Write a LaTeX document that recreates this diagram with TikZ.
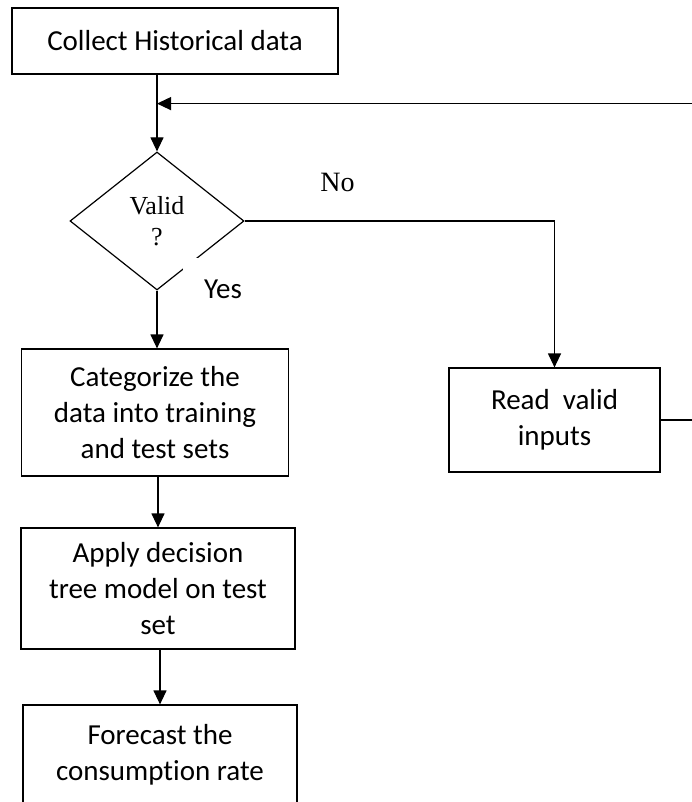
\documentclass[tikz,border=0pt]{standalone}
\usepackage{fontspec}
\setmainfont[Ligatures={NoCommon}]{Carlito}
\newfontfamily\timesfont{Liberation Serif}
\usetikzlibrary{shapes.geometric, arrows.meta}
\tikzstyle{process} = [rectangle, draw=black, line width=1.2pt, text centered, align=center,
font=\fontsize{29}{36}\selectfont]
\tikzstyle{decision} = [diamond, minimum width=174pt, minimum height=138pt, inner sep=0pt,
draw=black, line width=1.2pt, align=center, font=\timesfont\fontsize{26}{31}\selectfont]
\tikzstyle{answer} = [font=\timesfont\fontsize{28}{32}\selectfont]
\tikzstyle{yesbox} = [fill=white, inner xsep=21pt, inner ysep=22pt, font=\fontsize{29}{36}\selectfont]
\tikzstyle{arrow} = [line width=1.2pt, -{Triangle[length=14pt, width=13pt]}]

\begin{document}
\begin{tikzpicture}

\useasboundingbox (0,0) rectangle (692pt,-802pt);
\clip (0,0) rectangle (692pt,-802pt);

% ------------------------- nodes -------------------------

% ----- node: collect
\node(collect) [process, minimum width=326pt, minimum height=66pt] at (175pt,-41pt) {Collect Historical data};
% ----- node: valid
\node(valid) [decision, below of=collect, node distance=180pt, xshift=-18pt] {Valid\\?};
\node(yes) [yesbox] at (223pt,-289pt) {Yes};
% ----- node: categorize
\node(categorize) [process, below of=valid, node distance=191.5pt, xshift=-2pt, minimum width=267pt, minimum height=127pt] {Categorize the\\data into training\\and test sets};
% ----- node: apply
\node(apply) [process, below of=categorize, node distance=176pt, xshift=3pt, minimum width=274pt, minimum height=121pt] {Apply decision\\tree model on test\\set};
% ----- node: forecast
\node(forecast) [process, below of=apply, node distance=166.5pt, xshift=2pt, minimum width=274pt, minimum height=100pt] {Forecast the\\consumption rate};
% ----- node: read
\node(read) [process, right of=valid, node distance=397.5pt, yshift=-199pt, minimum width=211pt, minimum height=104pt] {Read~ valid\\inputs};
\coordinate(merge) at ([yshift=-29pt]collect.south -| valid.north);

% ------------------------- connections -------------------------
\draw[arrow](collect.south -| valid.north)--(valid.north);
\draw[arrow](valid.south)--(valid.south |- categorize.north);
\draw[arrow](valid.east)-|node[answer, pos=0.15, anchor=south, yshift=25pt] {No} (read.north);
\draw[arrow](categorize.south -| apply.north)--(apply.north);
\draw[arrow](apply.south -| forecast.north)--(forecast.north);
\draw[arrow](read.east)--++(45pt,0)|-(merge);

\end{tikzpicture}
\end{document}
